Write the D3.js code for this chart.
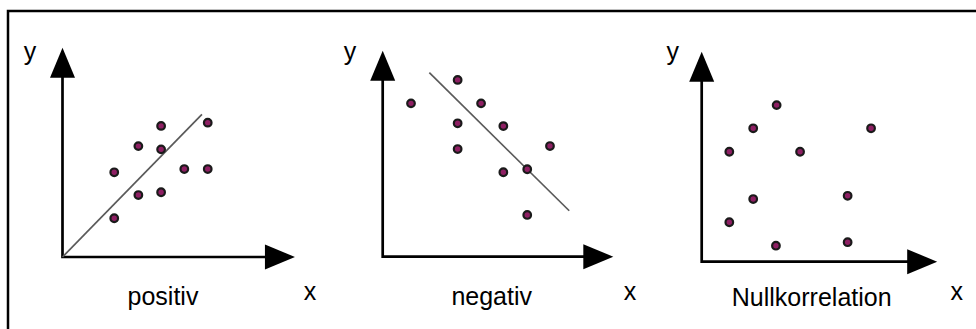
<!DOCTYPE html>
<html>
<head>
<meta charset="utf-8">
<script src="https://cdn.jsdelivr.net/npm/d3@7/dist/d3.min.js"></script>
<style>
  html, body { margin: 0; padding: 0; background: #fff; }
  svg { display: block; }
  text { font-family: "Liberation Sans", Arial, sans-serif; fill: #000; }
</style>
</head>
<body>
<svg id="chart" width="976" height="329"></svg>
<script>
// Panel titles
const titles = ["positiv", "negativ", "Nullkorrelation"];

// Scatter points per panel, in axis units (x, y)
const positivX = [2.23, 2.23, 3.27, 3.27, 4.25, 4.25, 4.25, 5.25, 6.26, 6.26];
const positivY = [3.65, 1.67, 4.78, 2.67, 5.65, 4.64, 2.79, 3.79, 5.79, 3.79];

const negativX = [1.22, 3.23, 3.23, 3.23, 4.24, 5.20, 5.20, 6.23, 6.23, 7.21];
const negativY = [6.61, 7.62, 5.75, 4.64, 6.61, 5.63, 3.64, 3.77, 1.80, 4.77];

const nullX = [3.23, 2.22, 7.30, 1.19, 4.24, 2.22, 6.29, 1.19, 3.20, 6.29];
const nullY = [6.75, 5.75, 5.75, 4.74, 4.74, 2.70, 2.84, 1.70, 0.69, 0.84];

// Trend lines: [x0, y0, x1, y1] in axis units (none for the null panel)
const positivTrend = [0, 0, 6.01, 6.15];
const negativTrend = [2.01, 7.93, 8.04, 1.98];

const seriesX = [positivX, negativX, nullX];
const seriesY = [positivY, negativY, nullY];
const trends = [positivTrend, negativTrend, null];

// Layout of each panel: origin in pixels and axis lengths in axis units
const panels = [
  { ox: 62.5, oy: 257, xLen: 10.02, yLen: 9.02, yLab: 30, xLab: 310, title: 163, titleY: 305 },
  { ox: 382.7, oy: 256.7, xLen: 9.94, yLen: 8.88, yLab: 350, xLab: 630, title: 491.7, titleY: 305 },
  { ox: 701.7, oy: 261.7, xLen: 10.15, yLen: 9.05, yLab: 672.7, xLab: 956.7, title: 811.7, titleY: 306 }
];

const unit = 23.2;      // pixels per axis unit
const headLen = 30;     // arrow head length
const headHalf = 12.5;  // arrow head half width

const svg = d3.select("#chart");

// Outer frame (open on the right and bottom, running past the canvas)
svg.append("rect")
  .attr("x", 8).attr("y", 11)
  .attr("width", 1100).attr("height", 400)
  .attr("fill", "none")
  .attr("stroke", "#000")
  .attr("stroke-width", 2.5);

panels.forEach((p, i) => {
  const x = d3.scaleLinear().domain([0, 10]).range([p.ox, p.ox + 10 * unit]);
  const y = d3.scaleLinear().domain([0, 10]).range([p.oy, p.oy - 10 * unit]);
  const g = svg.append("g");

  const xTip = x(p.xLen), yTip = y(p.yLen);

  // Axis lines
  g.append("path")
    .attr("d", `M${x(0)},${yTip + headLen - 1}L${x(0)},${y(0)}L${xTip - headLen + 1},${y(0)}`)
    .attr("fill", "none")
    .attr("stroke", "#000")
    .attr("stroke-width", 2.7);

  // Arrow heads
  g.append("path")
    .attr("d", `M${x(0)},${yTip}L${x(0) - headHalf},${yTip + headLen}L${x(0) + headHalf},${yTip + headLen}Z`)
    .attr("fill", "#000");
  g.append("path")
    .attr("d", `M${xTip},${y(0)}L${xTip - headLen},${y(0) - headHalf}L${xTip - headLen},${y(0) + headHalf}Z`)
    .attr("fill", "#000");

  // Trend line
  const t = trends[i];
  if (t) {
    g.append("line")
      .attr("x1", x(t[0])).attr("y1", y(t[1]))
      .attr("x2", x(t[2])).attr("y2", y(t[3]))
      .attr("stroke", "#5a5a5a")
      .attr("stroke-width", 1.7);
  }

  // Points
  const pts = d3.zip(seriesX[i], seriesY[i]);
  g.selectAll("circle.pt")
    .data(pts)
    .join("circle")
    .attr("class", "pt")
    .attr("cx", d => x(d[0]))
    .attr("cy", d => y(d[1]))
    .attr("r", 3.8)
    .attr("fill", "#8e1f63")
    .attr("stroke", "#1a1a1a")
    .attr("stroke-width", 2.2);

  // Axis labels
  g.append("text")
    .attr("x", p.yLab).attr("y", 60)
    .attr("text-anchor", "middle")
    .attr("font-size", 25)
    .text("y");
  g.append("text")
    .attr("x", p.xLab).attr("y", 300)
    .attr("text-anchor", "middle")
    .attr("font-size", 25)
    .text("x");

  // Panel title
  g.append("text")
    .attr("x", p.title).attr("y", p.titleY)
    .attr("text-anchor", "middle")
    .attr("font-size", 25)
    .text(titles[i]);
});
</script>
</body>
</html>
